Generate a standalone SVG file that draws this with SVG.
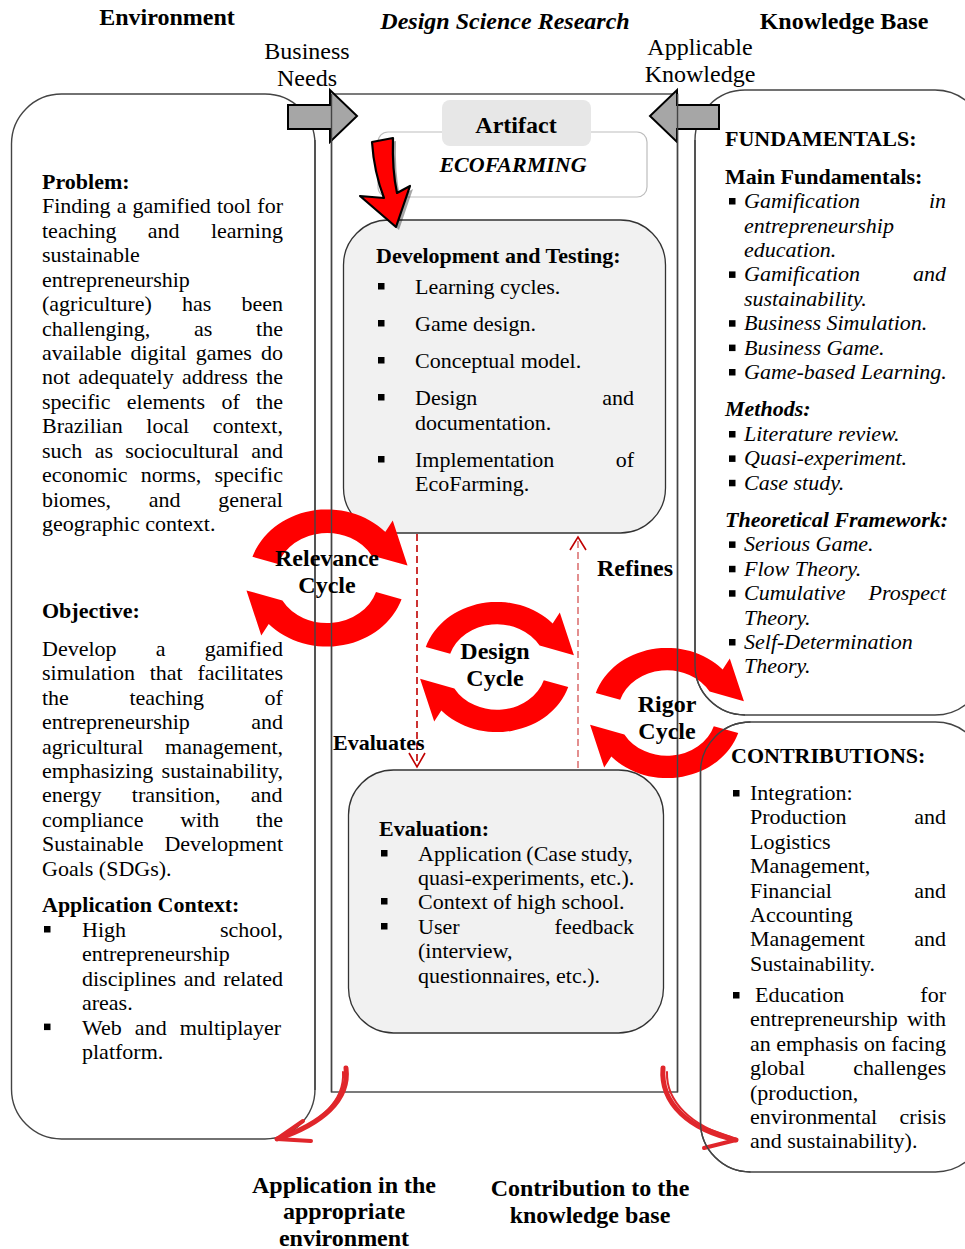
<svg xmlns="http://www.w3.org/2000/svg" width="965" height="1249" viewBox="0 0 965 1249">
<style>
.t{font-family:"Liberation Serif","Times New Roman",serif;font-size:22px;fill:#000}
.b{font-weight:bold}
.i{font-style:italic}
.h{font-size:24px}
.m{text-anchor:middle}
.e{text-anchor:end}
.ln{fill:none;stroke:#444;stroke-width:1.4}
.box{fill:#f1f1f1;stroke:#333;stroke-width:1.3}
.ga{fill:#a6a6a6;stroke:#000;stroke-width:2}
.cy{fill:#ff0000}
.dl{fill:none;stroke:#c00000;stroke-width:1.6;stroke-dasharray:7 4}
.dr{fill:none;stroke:#d86060;stroke-width:1.4;stroke-dasharray:7 4}
.ah{fill:none;stroke-width:1.6}
.br{fill:none;stroke:#e0262b;stroke-linecap:round;stroke-linejoin:round}
</style>
<defs>
<rect id="bul" width="6.5" height="6.5" fill="#000"/>
<g id="cyc">
<path id="arcU" class="cy" d="M-66.57,-21.63 A70,70 0 0 1 52.02,-46.84 L58.69,-58.69 L71.89,-12.68 L39.84,-23 A46,46 0 0 0 -43.75,-14.21 Z"/>
<use href="#arcU" transform="rotate(180)"/>
</g>
</defs>
<rect width="965" height="1249" fill="#fff"/>

<!-- titles -->
<text class="t b h m" x="167" y="25">Environment</text>
<text class="t b i h m" x="505" y="29">Design Science Research</text>
<text class="t b h m" x="844" y="29">Knowledge Base</text>
<text class="t h m" x="307" y="59">Business</text>
<text class="t h m" x="307" y="86">Needs</text>
<text class="t h m" x="700" y="55">Applicable</text>
<text class="t h m" x="700" y="82">Knowledge</text>

<!-- structure nodes -->
<g id="environment-panel">
<rect class="ln" x="11.5" y="94" width="303.5" height="1045" rx="50"/>
</g>
<g id="dsr-frame">
<rect class="ln" x="331.5" y="94" width="346" height="998"/>
</g>
<g id="fundamentals-panel">
<rect class="ln" x="695" y="90" width="290" height="625" rx="50"/>
</g>
<g id="contributions-panel">
<rect class="ln" x="700.5" y="722" width="285" height="450" rx="50"/>
</g>
<g id="artifact">
<rect x="378" y="132" width="269" height="65" rx="10" fill="#fff" stroke="#bdbdbd" stroke-width="1.2"/>
<rect x="442" y="100" width="149" height="46" rx="8" fill="#e7e7e7"/>
<text class="t b h m" x="516" y="133">Artifact</text>
<text class="t b i m" x="513" y="172">ECOFARMING</text>
</g>
<g id="development-box">
<rect class="box" x="343.5" y="220" width="322" height="313" rx="45"/>
</g>
<g id="evaluation-box">
<rect class="box" x="348.5" y="770" width="315" height="263" rx="45"/>
</g>

<!-- connectors -->
<g id="connectors">
<path class="ga" d="M288,105 H330 V90 L357,116 L330,142 V129 H288 Z"/>
<path class="ga" d="M719,105 H677 V90 L650,116 L677,142 V129 H719 Z"/>
<path d="M375,145 L396,141 Q395,173 400,196 L413,189 L399,230 L363,199 L387,201 Q377,175 375,145 Z" fill="#000" opacity="0.35"/>
<path d="M372,142 L393,138 Q392,170 397,193 L410,186 L396,227 L360,196 L384,198 Q374,172 372,142 Z" fill="#ff0000" stroke="#000" stroke-width="2.2" stroke-linejoin="round"/>
<line class="dl" x1="417" y1="534" x2="417" y2="766"/>
<polyline class="ah" stroke="#c00000" points="409,753 417,767 425,753"/>
<line class="dr" x1="578" y1="768" x2="578" y2="538"/>
<polyline class="ah" stroke="#c00000" points="570,550 578,537 586,550"/>
<use href="#cyc" transform="translate(327,578) scale(1.12,0.98)"/>
<use href="#cyc" transform="translate(497,667) scale(1.07,0.93)"/>
<use href="#cyc" transform="translate(667,713) scale(1.07,0.93)"/>
<path class="br" stroke-width="5" d="M346,1068 C350,1100 322,1124 277,1139"/>
<path class="br" stroke-width="2" d="M343,1072 C345,1102 318,1124 282,1137"/>
<path class="br" stroke-width="4" d="M277,1139 L303,1121 M277,1139 L311,1141"/>
<path class="br" stroke-width="5" d="M663,1068 C660,1104 690,1130 736,1140"/>
<path class="br" stroke-width="2" d="M667,1072 C666,1102 692,1126 731,1137"/>
<path class="br" stroke-width="4" d="M736,1140 L708,1130 M736,1140 L704,1148"/>
</g>

<!-- lines over arrows -->
<g id="frame-lines">
<line class="ln" x1="315" y1="140" x2="315" y2="1090"/>
<line class="ln" x1="331.5" y1="94" x2="331.5" y2="1092"/>
<line class="ln" x1="677.5" y1="94" x2="677.5" y2="1092"/>
<path class="ln" d="M695,140 V665 A50,50 0 0 0 745,715"/>
<path class="ln" d="M750.5,722 A50,50 0 0 0 700.5,772 V1122 A50,50 0 0 0 750.5,1172"/>
</g>

<!-- cycle and flow labels -->
<g id="labels">
<text class="t b h m" x="327" y="566">Relevance</text>
<text class="t b h m" x="327" y="593">Cycle</text>
<text class="t b h m" x="495" y="659">Design</text>
<text class="t b h m" x="495" y="686">Cycle</text>
<text class="t b h m" x="667" y="712">Rigor</text>
<text class="t b h m" x="667" y="739">Cycle</text>
<text class="t b h" x="597" y="576">Refines</text>
<text class="t b" x="333" y="750">Evaluates</text>
<text class="t b h m" x="344" y="1193">Application in the</text>
<text class="t b h m" x="344" y="1219">appropriate</text>
<text class="t b h m" x="344" y="1246">environment</text>
<text class="t b h m" x="590" y="1196">Contribution to the</text>
<text class="t b h m" x="590" y="1223">knowledge base</text>
</g>

<!-- left panel text -->
<g id="environment-text" class="t">
<text class="b" x="42" y="189">Problem:</text>
<text x="42" y="213.4" style="word-spacing:0.67px">Finding a gamified tool for</text>
<text x="42" y="237.8" style="word-spacing:25.8px">teaching and learning</text>
<text x="42" y="262.3">sustainable</text>
<text x="42" y="286.7">entrepreneurship</text>
<text x="42" y="311.1" style="word-spacing:24.6px">(agriculture) has been</text>
<text x="42" y="335.5" style="word-spacing:38.3px">challenging, as the</text>
<text x="42" y="359.9" style="word-spacing:3.54px">available digital games do</text>
<text x="42" y="384.4" style="word-spacing:2.74px">not adequately address the</text>
<text x="42" y="408.8" style="word-spacing:10.9px">specific elements of the</text>
<text x="42" y="433.2" style="word-spacing:18.15px">Brazilian local context,</text>
<text x="42" y="457.6" style="word-spacing:6.8px">such as sociocultural and</text>
<text x="42" y="482" style="word-spacing:7.75px">economic norms, specific</text>
<text x="42" y="506.5" style="word-spacing:32.2px">biomes, and general</text>
<text x="42" y="530.9">geographic context.</text>
<text class="b" x="42" y="618">Objective:</text>
<text x="42" y="656" style="word-spacing:33.7px">Develop a gamified</text>
<text x="42" y="680.4" style="word-spacing:9.3px">simulation that facilitates</text>
<text x="42" y="704.8" style="word-spacing:55.1px">the teaching of</text>
<text x="42" y="729.2">entrepreneurship</text><text class="e" x="283" y="729.2">and</text>
<text x="42" y="753.6">agricultural</text><text class="e" x="283" y="753.6">management,</text>
<text x="42" y="778">emphasizing</text><text class="e" x="283" y="778">sustainability,</text>
<text x="42" y="802.4" style="word-spacing:24.9px">energy transition, and</text>
<text x="42" y="826.8" style="word-spacing:31.3px">compliance with the</text>
<text x="42" y="851.2">Sustainable</text><text class="e" x="283" y="851.2">Development</text>
<text x="42" y="875.6">Goals (SDGs).</text>
<text class="b" x="42" y="912">Application Context:</text>
<use href="#bul" x="44" y="926"/>
<text x="82" y="937">High</text><text class="e" x="283" y="937">school,</text>
<text x="82" y="961.4">entrepreneurship</text>
<text x="82" y="985.8" style="word-spacing:2.14px">disciplines and related</text>
<text x="82" y="1010.2">areas.</text>
<use href="#bul" x="44" y="1023.6"/>
<text x="82" y="1034.6" style="word-spacing:7.6px">Web and multiplayer</text>
<text x="82" y="1059">platform.</text>
</g>

<!-- development box text -->
<g id="development-text" class="t">
<text class="b" x="376" y="263">Development and Testing:</text>
<use href="#bul" x="378" y="283"/>
<text x="415" y="294">Learning cycles.</text>
<use href="#bul" x="378" y="320"/>
<text x="415" y="331">Game design.</text>
<use href="#bul" x="378" y="357"/>
<text x="415" y="368">Conceptual model.</text>
<use href="#bul" x="378" y="394"/>
<text x="415" y="405">Design</text><text class="e" x="634" y="405">and</text>
<text x="415" y="430">documentation.</text>
<use href="#bul" x="378" y="456"/>
<text x="415" y="467">Implementation</text><text class="e" x="634" y="467">of</text>
<text x="415" y="491">EcoFarming.</text>
</g>

<!-- evaluation box text -->
<g id="evaluation-text" class="t">
<text class="b" x="379" y="836">Evaluation:</text>
<use href="#bul" x="381" y="850"/>
<text x="418" y="861" style="word-spacing:-1px">Application (Case study,</text>
<text x="418" y="885">quasi-experiments, etc.).</text>
<use href="#bul" x="381" y="898"/>
<text x="418" y="909">Context of high school.</text>
<use href="#bul" x="381" y="923"/>
<text x="418" y="934">User</text><text class="e" x="634" y="934">feedback</text>
<text x="418" y="958">(interview,</text>
<text x="418" y="983">questionnaires, etc.).</text>
</g>

<!-- fundamentals text -->
<g id="fundamentals-text" class="t">
<text class="b" x="725" y="146">FUNDAMENTALS:</text>
<text class="b" x="725" y="184">Main Fundamentals:</text>
<use href="#bul" x="729" y="198"/>
<text class="i" x="744" y="208">Gamification</text><text class="i e" x="946" y="208">in</text>
<text class="i" x="744" y="232.5">entrepreneurship</text>
<text class="i" x="744" y="257">education.</text>
<use href="#bul" x="729" y="271.4"/>
<text class="i" x="744" y="281.4">Gamification</text><text class="i e" x="946" y="281.4">and</text>
<text class="i" x="744" y="305.8">sustainability.</text>
<use href="#bul" x="729" y="320.2"/>
<text class="i" x="744" y="330.2">Business Simulation.</text>
<use href="#bul" x="729" y="344.6"/>
<text class="i" x="744" y="354.6">Business Game.</text>
<use href="#bul" x="729" y="369"/>
<text class="i" x="744" y="379">Game-based Learning.</text>
<text class="b i" x="725" y="416">Methods:</text>
<use href="#bul" x="729" y="431"/>
<text class="i" x="744" y="441">Literature review.</text>
<use href="#bul" x="729" y="455.4"/>
<text class="i" x="744" y="465.4">Quasi-experiment.</text>
<use href="#bul" x="729" y="479.8"/>
<text class="i" x="744" y="489.8">Case study.</text>
<text class="b i" x="725" y="527">Theoretical Framework:</text>
<use href="#bul" x="729" y="541.4"/>
<text class="i" x="744" y="551.4">Serious Game.</text>
<use href="#bul" x="729" y="565.8"/>
<text class="i" x="744" y="575.8">Flow Theory.</text>
<use href="#bul" x="729" y="590.2"/>
<text class="i" x="744" y="600.2">Cumulative</text><text class="i e" x="946" y="600.2">Prospect</text>
<text class="i" x="744" y="624.6">Theory.</text>
<use href="#bul" x="729" y="639"/>
<text class="i" x="744" y="649">Self-Determination</text>
<text class="i" x="744" y="673.4">Theory.</text>
</g>

<!-- contributions text -->
<g id="contributions-text" class="t">
<text class="b" x="731" y="763">CONTRIBUTIONS:</text>
<use href="#bul" x="733" y="790"/>
<text x="750" y="800">Integration:</text>
<text x="750" y="824.4">Production</text><text class="e" x="946" y="824.4">and</text>
<text x="750" y="848.8">Logistics</text>
<text x="750" y="873.2">Management,</text>
<text x="750" y="897.6">Financial</text><text class="e" x="946" y="897.6">and</text>
<text x="750" y="922">Accounting</text>
<text x="750" y="946.4">Management</text><text class="e" x="946" y="946.4">and</text>
<text x="750" y="970.8">Sustainability.</text>
<use href="#bul" x="733" y="992"/>
<text x="755" y="1002">Education</text><text class="e" x="946" y="1002">for</text>
<text x="750" y="1026.4">entrepreneurship</text><text class="e" x="946" y="1026.4">with</text>
<text x="750" y="1050.8" style="word-spacing:0px">an emphasis on facing</text>
<text x="750" y="1075.2">global</text><text class="e" x="946" y="1075.2">challenges</text>
<text x="750" y="1099.6">(production,</text>
<text x="750" y="1124">environmental</text><text class="e" x="946" y="1124">crisis</text>
<text x="750" y="1148.4">and sustainability).</text>
</g>
</svg>
